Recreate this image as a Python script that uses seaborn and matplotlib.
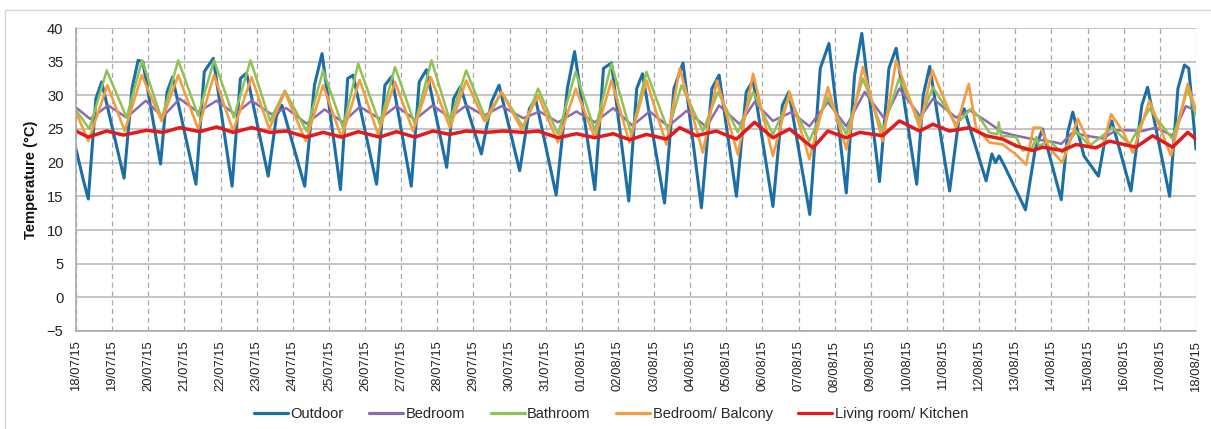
import numpy as np
import pandas as pd
import matplotlib
matplotlib.use("Agg")
import matplotlib.pyplot as plt
import matplotlib.dates as mdates
from matplotlib.lines import Line2D
import seaborn as sns

# ---- data (time in days since 18/07/15 00:00, temperature in °C) ----
start_date = "2015-07-18"
n_days = 31

outdoor_t = [0.00, 0.20, 0.34, 0.55, 0.71, 1.33, 1.55, 1.72, 1.85, 2.34, 2.52, 2.67, 3.32,
             3.55, 3.80, 4.32, 4.55, 4.72, 5.32, 5.55, 5.70, 6.33, 6.60, 6.81, 7.32, 7.52,
             7.67, 8.32, 8.55, 8.74, 9.28, 9.50, 9.70, 10.26, 10.45, 10.64, 11.22, 11.50,
             11.71, 12.28, 12.55, 12.72, 13.29, 13.60, 13.80, 14.36, 14.60, 14.82, 15.30,
             15.52, 15.68, 16.29, 16.55, 16.80, 17.31, 17.60, 17.80, 18.28, 18.55, 18.74,
             19.29, 19.55, 19.73, 20.31, 20.60, 20.84, 21.32, 21.55, 21.75, 22.24, 22.50,
             22.70, 23.27, 23.45, 23.63, 24.18, 24.45, 24.58, 25.19, 25.35, 25.45, 25.55,
             25.70, 26.28, 26.55, 26.75, 27.27, 27.45, 27.59, 27.90, 28.30, 28.50, 28.67,
             29.20, 29.50, 29.66, 30.27, 30.50, 30.68, 30.80, 31.00]
outdoor_v = [22.0, 17.5, 14.6, 29.5, 32.0, 17.7, 31.0, 35.2, 35.0, 19.8, 30.5, 32.7, 16.8,
             33.5, 35.5, 16.5, 32.5, 33.3, 18.0, 27.0, 28.5, 16.5, 31.5, 36.2, 16.0, 32.5,
             33.0, 16.8, 31.5, 32.8, 16.5, 32.0, 33.8, 19.3, 29.5, 31.3, 21.3, 29.0,
             31.5, 18.8, 28.0, 29.5, 15.2, 31.0, 36.5, 16.0, 34.0, 34.8, 14.3,
             31.0, 33.2, 14.0, 31.0, 34.8, 13.3, 31.0, 33.0, 15.0, 30.5, 32.2,
             13.5, 28.5, 30.5, 12.3, 34.0, 37.7, 15.5, 33.0, 39.2, 17.2, 34.0,
             37.0, 16.8, 30.0, 34.3, 15.8, 27.0, 28.0, 17.3, 21.3, 20.0, 21.0,
             19.5, 13.0, 22.0, 25.0, 14.5, 24.5, 27.5, 21.0, 18.0, 24.0, 26.2,
             15.8, 28.5, 31.2, 15.0, 31.0, 34.5, 34.0, 22.0]

bedroom_t = [0, 0.39, 0.89, 1.40, 1.93, 2.40, 2.87, 3.38, 3.89, 4.40, 4.86, 5.41, 5.82, 6.38,
             6.88, 7.39, 7.86, 8.41, 8.87, 9.38, 9.87, 10.35, 10.80, 11.30, 11.78, 12.38,
             12.83, 13.34, 13.85, 14.36, 14.87, 15.40, 15.88, 16.39, 16.90, 17.45, 17.80,
             18.37, 18.78, 19.29, 19.80, 20.30, 20.81, 21.32, 21.83, 22.38, 22.79, 23.38,
             23.72, 24.36, 24.73, 25.19, 25.65, 26.02, 26.48, 26.94, 27.27, 27.59, 27.96,
             28.42, 28.79, 29.16, 29.52, 29.89, 30.35, 30.72, 31.0]
bedroom_v = [28.2, 26.5, 28.5, 26.7, 29.2, 26.8, 29.5, 27.5, 29.2, 27.2, 29.2, 27.2, 28.1, 25.8,
             27.9, 26.0, 28.3, 26.5, 28.4, 26.4, 28.5, 26.7, 28.5, 27.0, 28.4, 26.6,
             27.6, 26.0, 27.6, 26.0, 28.1, 25.5, 27.6, 25.4, 27.7, 25.3, 28.5,
             25.7, 29.0, 26.2, 27.5, 25.4, 29.0, 25.4, 30.5, 26.5, 31.0, 26.8,
             29.5, 26.7, 27.8, 26.2, 24.5, 24.0, 23.5, 23.2, 22.8, 24.5, 24.0,
             23.6, 24.8, 24.8, 24.7, 25.2, 24.0, 28.4, 27.7]

bathroom_t = [0, 0.37, 0.85, 1.40, 1.83, 2.37, 2.83, 3.38, 3.82, 4.37, 4.83, 5.37, 5.78, 6.38,
              6.84, 7.39, 7.81, 8.41, 8.83, 9.38, 9.84, 10.35, 10.80, 11.36, 11.78, 12.38,
              12.79, 13.34, 13.83, 14.36, 14.82, 15.37, 15.79, 16.39, 16.76, 17.35, 17.77,
              18.32, 18.74, 19.29, 19.75, 20.30, 20.81, 21.32, 21.78, 22.33, 22.78, 23.35,
              23.72, 24.36, 24.78, 25.01, 25.28, 25.50, 25.54, 25.60, 26.02, 26.20, 26.45,
              26.58, 26.65, 26.94, 27.30, 27.68, 28.05, 28.70, 29.16, 29.71, 30.35, 30.77, 31.0]
bathroom_v = [27.8, 25.0, 33.7, 26.7, 35.2, 26.5, 35.2, 27.0, 35.2, 26.7, 35.2, 26.2, 30.7, 24.7,
              33.7, 25.2, 34.7, 25.7, 34.2, 25.7, 35.2, 26.2, 33.7, 26.2, 30.5, 25.2,
              31.0, 24.2, 33.5, 24.7, 34.7, 24.2, 33.5, 24.7, 31.5, 24.7, 30.5,
              24.5, 30.5, 24.2, 29.7, 23.2, 29.7, 24.2, 32.5, 24.7, 32.5, 26.2,
              31.2, 25.7, 28.0, 26.7, 24.5, 24.2, 26.0, 24.0, 23.8, 21.8, 22.0,
              23.8, 22.5, 23.2, 21.5, 24.7, 22.5, 25.2, 22.7, 28.0, 23.5, 31.0, 27.0]

balcony_t = [0, 0.34, 0.87, 1.35, 1.82, 2.37, 2.83, 3.38, 3.82, 4.35, 4.86, 5.35, 5.78, 6.36,
             6.84, 7.35, 7.85, 8.36, 8.83, 9.33, 9.82, 10.35, 10.80, 11.30, 11.78, 12.33,
             12.79, 13.34, 13.83, 14.36, 14.82, 15.32, 15.79, 16.34, 16.71, 17.35, 17.74,
             18.32, 18.74, 19.29, 19.75, 20.30, 20.81, 21.32, 21.78, 22.33, 22.70, 23.35,
             23.70, 24.36, 24.71, 24.91, 25.28, 25.65, 26.02, 26.30, 26.50, 26.70, 26.94,
             27.30, 27.73, 28.10, 28.42, 28.65, 28.97, 29.25, 29.71, 30.31, 30.77, 31.0]
balcony_v = [27.5, 23.2, 31.5, 24.7, 33.0, 26.2, 33.0, 25.0, 33.0, 24.7, 32.7, 25.0, 30.5, 23.2,
             31.5, 23.7, 32.3, 24.2, 32.0, 24.7, 32.7, 25.2, 32.2, 26.2, 30.5, 25.0,
             30.0, 23.0, 31.0, 23.7, 32.2, 23.0, 32.2, 22.7, 34.0, 21.5, 32.2,
             21.2, 33.2, 21.0, 30.5, 20.5, 31.2, 22.0, 34.2, 23.2, 35.2, 25.2,
             33.7, 25.2, 31.7, 25.2, 23.0, 22.7, 21.2, 19.7, 25.2, 25.2, 22.2,
             20.0, 26.5, 22.2, 22.5, 27.2, 24.7, 21.5, 29.2, 21.0, 31.7, 27.7]

living_t = [0, 0.34, 0.85, 1.31, 1.95, 2.41, 2.87, 3.43, 3.89, 4.35, 4.86, 5.37, 5.82, 6.38,
            6.84, 7.35, 7.81, 8.41, 8.87, 9.38, 9.88, 10.35, 10.80, 11.36, 11.82, 12.38,
            12.79, 13.34, 13.85, 14.36, 14.87, 15.33, 15.79, 16.34, 16.71, 17.17, 17.72,
            18.28, 18.78, 19.29, 19.75, 20.40, 20.81, 21.32, 21.69, 22.33, 22.79, 23.35,
            23.72, 24.18, 24.73, 25.19, 25.65, 26.02, 26.48, 26.76, 27.30, 27.68, 28.23,
            28.60, 29.34, 29.80, 30.35, 30.77, 31.0]
living_v = [24.7, 23.8, 24.7, 24.1, 24.8, 24.5, 25.2, 24.6, 25.3, 24.5, 25.2, 24.5, 24.7, 23.8,
            24.5, 23.8, 24.6, 23.8, 24.6, 23.8, 24.7, 24.2, 24.7, 24.5, 24.7, 24.5,
            24.7, 23.7, 24.3, 23.7, 24.3, 23.4, 24.2, 23.5, 25.2, 24.0, 24.7,
            23.5, 26.0, 23.7, 25.0, 22.2, 24.7, 23.7, 24.5, 24.0, 26.2, 24.7,
            25.7, 24.7, 25.2, 24.0, 23.5, 22.5, 21.8, 22.3, 21.8, 22.7, 22.2,
            23.2, 22.3, 24.0, 22.3, 24.5, 23.5]

series_names = ["Outdoor", "Bedroom", "Bathroom", "Bedroom/ Balcony", "Living room/ Kitchen"]
y_ticks = [-5, 0, 5, 10, 15, 20, 25, 30, 35, 40]

# ---- styles ----
colors = {"Outdoor": "#1B6FA6", "Bedroom": "#8E69B3", "Bathroom": "#8DC255",
          "Bedroom/ Balcony": "#F59C3F", "Living room/ Kitchen": "#E3191C"}
widths = {"Outdoor": 2.2, "Bedroom": 1.8, "Bathroom": 1.8,
          "Bedroom/ Balcony": 1.9, "Living room/ Kitchen": 2.5}

t0 = pd.Timestamp(start_date)
frames = []
for name, t, v in [("Outdoor", outdoor_t, outdoor_v), ("Bedroom", bedroom_t, bedroom_v),
                   ("Bathroom", bathroom_t, bathroom_v),
                   ("Bedroom/ Balcony", balcony_t, balcony_v),
                   ("Living room/ Kitchen", living_t, living_v)]:
    frames.append(pd.DataFrame({"time": t0 + pd.to_timedelta(t, unit="D"),
                                "temp": v, "series": name}))
df = pd.concat(frames, ignore_index=True)

sns.set_theme(style="white")
plt.rcParams["font.family"] = ["Liberation Sans", "DejaVu Sans"]

fig = plt.figure(figsize=(12.11, 4.29), dpi=100)
ax = fig.add_axes([76 / 1211, 1 - 331 / 429, 1120 / 1211, 303 / 429])

for name in series_names:
    sub = df[df["series"] == name]
    sns.lineplot(data=sub, x="time", y="temp", ax=ax, color=colors[name],
                 linewidth=widths[name], label=name, estimator=None, sort=False)

ax.set_xlim(t0, t0 + pd.Timedelta(days=n_days))
ax.set_ylim(-5, 40)
ax.set_yticks(y_ticks)
ax.xaxis.set_major_locator(mdates.DayLocator())
ax.xaxis.set_major_formatter(mdates.DateFormatter("%d/%m/%y"))
ax.tick_params(axis="x", labelrotation=90, labelsize=9.4, length=0, pad=7, colors="#222222")
ax.tick_params(axis="y", labelsize=10.6, length=0, pad=9, colors="#222222")
for lab in ax.get_xticklabels():
    lab.set_rotation(90)

ax.grid(axis="y", color="#b5b5b5", linewidth=1.1, linestyle="-")
ax.grid(axis="x", color="#a8a8a8", linewidth=0.9, linestyle=(0, (4, 3)))
ax.set_axisbelow(True)
for s in ["top", "right"]:
    ax.spines[s].set_visible(False)
for s in ["left", "bottom"]:
    ax.spines[s].set_color("#a6a6a6")
    ax.spines[s].set_linewidth(1.1)

ax.set_xlabel("")
ax.set_ylabel("Temperature (°C)", fontsize=10.6, fontweight="bold", labelpad=6, color="#111111")

handles = [Line2D([], [], color=colors[n], linewidth=2.3) for n in series_names]
ax.get_legend().remove()
fig.legend(handles, series_names, loc="center", bbox_to_anchor=(611 / 1211, 1 - 414 / 429),
           ncol=5, frameon=False, fontsize=10.5, handlelength=2.35, handletextpad=0.15,
           columnspacing=1.75, borderaxespad=0)

# chart-area border (left and top visible in the reference)
fig.add_artist(Line2D([5 / 1211, 5 / 1211], [0, 1 - 10 / 429], transform=fig.transFigure,
                      color="#d4d4d4", linewidth=1.0))
fig.add_artist(Line2D([5 / 1211, 1], [1 - 10 / 429, 1 - 10 / 429], transform=fig.transFigure,
                      color="#d4d4d4", linewidth=1.0))

fig.savefig("out.png", dpi=100, facecolor="white")
